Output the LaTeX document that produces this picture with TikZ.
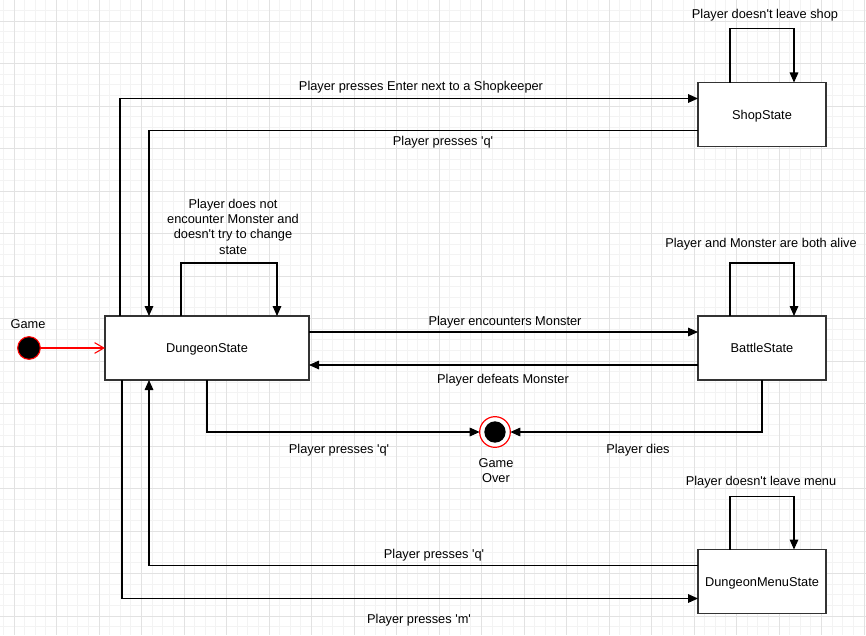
\documentclass[tikz,border=0pt]{standalone}
\usepackage{fontspec}
\setmainfont{Liberation Sans}
\usetikzlibrary{arrows.meta,calc}
\definecolor{gmin}{HTML}{F3F3F3}
\definecolor{gmaj}{HTML}{E2E2E2}
\definecolor{bord}{HTML}{333333}
\definecolor{dred}{HTML}{FF0000}
\newcommand{\sq}{\textquotesingle}
\begin{document}
\begin{tikzpicture}[x=0.75pt,y=-0.75pt,
  state/.style={draw=bord,line width=1.1pt,fill=white,rectangle,outer sep=0pt,
    minimum height=48pt,font=\fontsize{9.6}{11.5}\selectfont,text depth=0pt,text height=7pt},
  edge/.style={draw=black,line width=0.8pt,-{Triangle[length=7.5pt,width=6.5pt]}},
  lbl/.style={font=\fontsize{9.6}{11.4}\selectfont,inner sep=0pt,align=center,yshift=-1.3pt}]
\fill[white] (0,0) rectangle (866,635);
\useasboundingbox (0,0) rectangle (866,635);
% grid
\foreach \i in {0,...,81}{
  \draw[gmin,line width=0.6pt] ({3.375+10.625*\i},0) -- ({3.375+10.625*\i},635);}
\foreach \i in {0,...,59}{
  \draw[gmin,line width=0.6pt] (0,{10.375+10.625*\i}) -- (866,{10.375+10.625*\i});}
\foreach \i in {0,...,20}{
  \draw[gmaj,line width=0.6pt] ({14+42.5*\i},0) -- ({14+42.5*\i},635);}
\foreach \i in {0,...,14}{
  \draw[gmaj,line width=0.6pt] (0,{21+42.5*\i}) -- (866,{21+42.5*\i});}

% states
\node[state,minimum width=153pt] (dun) at (207,348) {DungeonState};
\node[state,minimum width=96pt] (shop) at (762,114.5) {ShopState};
\node[state,minimum width=96pt] (bat) at (762,348) {BattleState};
\node[state,minimum width=96pt] (menu) at (762,581.5) {DungeonMenuState};

% start and end
\node[circle,draw=dred,fill=black,line width=0.8pt,minimum size=17pt,inner sep=0pt,outer sep=0pt] (start) at (29,348) {};
\node[lbl] (startlbl) at (28,322) {Game};
\node[circle,draw=dred,fill=white,line width=0.9pt,minimum size=23pt,inner sep=0pt,outer sep=0pt] (over) at (495,432) {};
\node[circle,fill=black,minimum size=16pt,inner sep=0pt] (overdot) at (over.center) {};
\node[lbl] (overlbl) at (496,469) {Game\\Over};

% initial
\draw[dred,line width=0.8pt,-{Straight Barb[length=7pt,width=8pt]}] (start) -- (dun.west);

% edges
\draw[edge] ($(dun.north west)+(15,0)$) |- ($(shop.north west)+(0,16)$);
\draw[edge] ($(shop.south west)+(0,-16)$) -| ($(dun.north west)+(44,0)$);
\draw[edge] ($(shop.north west)+(32,0)$) -- ++(0,-54) -| ($(shop.north west)+(96,0)$);
\draw[edge] ($(dun.north west)+(76,0)$) -- ++(0,-53) -| ($(dun.north west)+(172,0)$);
\draw[edge] ($(bat.north west)+(32,0)$) -- ++(0,-53) -| ($(bat.north west)+(96,0)$);
\draw[edge] ($(menu.north west)+(32,0)$) -- ++(0,-53) -| ($(menu.north west)+(96,0)$);
\draw[edge] ($(dun.north east)+(0,16)$) -- ($(bat.north west)+(0,16)$);
\draw[edge] ($(bat.south west)+(0,-15)$) -- ($(dun.south east)+(0,-15)$);
\draw[edge] ($(dun.south west)+(102,0)$) |- (over.west);
\draw[edge] ($(bat.south west)+(64,0)$) |- (over.east);
\draw[edge] ($(menu.north west)+(0,16)$) -| ($(dun.south west)+(44,0)$);
\draw[edge] ($(dun.south west)+(17,0)$) |- ($(menu.south west)+(0,-15)$);

% labels
\node[lbl] (l1) at (421,85) {Player presses Enter next to a Shopkeeper};
\node[lbl] (l2) at (443,140) {Player presses \sq q\sq};
\node[lbl] (l3) at (765,13) {Player doesn\sq t leave shop};
\node[lbl] (l4) at (233,225) {Player does not\\encounter Monster and\\doesn\sq t try to change\\state};
\node[lbl] (l5) at (761,242) {Player and Monster are both alive};
\node[lbl] (l6) at (505,320) {Player encounters Monster};
\node[lbl] (l7) at (503,378) {Player defeats Monster};
\node[lbl] (l8) at (339,448) {Player presses \sq q\sq};
\node[lbl] (l9) at (638,448) {Player dies};
\node[lbl] (l10) at (761,480) {Player doesn\sq t leave menu};
\node[lbl] (l11) at (434,553) {Player presses \sq q\sq};
\node[lbl] (l12) at (419,618) {Player presses \sq m\sq};
\end{tikzpicture}
\end{document}
